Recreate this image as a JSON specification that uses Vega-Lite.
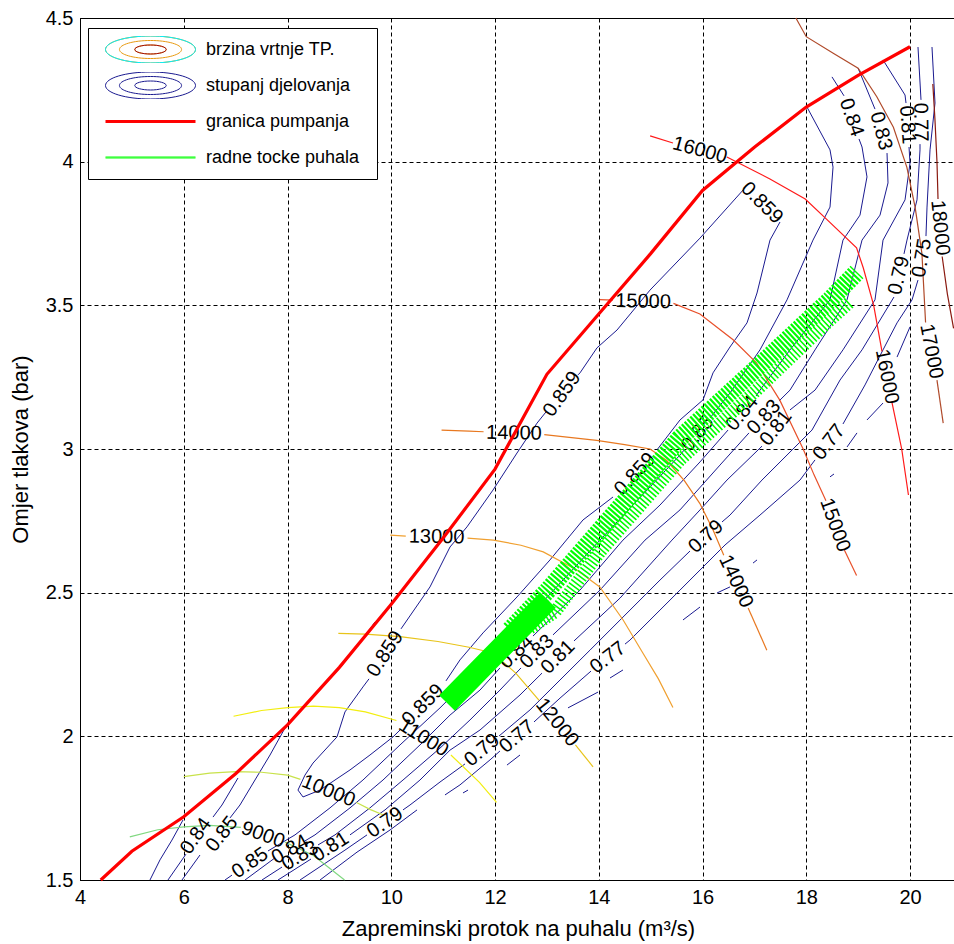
{
"$schema": "https://vega.github.io/schema/vega-lite/v6.json",
"width": 876, "height": 862,
"autosize": {"type": "none"},
"padding": {"left": 80, "top": 18, "right": 0, "bottom": 64},
"background": "white",
"config": {
  "view": {"stroke": "black", "strokeWidth": 1},
  "font": "Liberation Sans",
  "axis": {"domainColor": "black", "domainWidth": 1, "gridColor": "black", "gridDash": [4, 3], "gridOpacity": 1, "gridWidth": 1, "ticks": false, "labelFont": "Liberation Sans", "labelFontSize": 20, "labelColor": "black", "labelPadding": 7, "labelFlush": false, "labelOverlap": false, "titleFont": "Liberation Sans", "titleFontSize": 22, "titleFontWeight": "normal", "titleColor": "black"}
},
"datasets": {
"eff": [
{"s":"E1a","o":0,"x":10.169,"y":2.022},{"s":"E1a","o":1,"x":10.034,"y":1.998},{"s":"E1a","o":2,"x":9.59,"y":1.935},{"s":"E1a","o":3,"x":9.205,"y":1.883},{"s":"E1a","o":4,"x":8.627,"y":1.813},{"s":"E1a","o":5,"x":8.299,"y":1.789},{"s":"E1a","o":6,"x":8.202,"y":1.813},{"s":"E1a","o":7,"x":8.337,"y":1.865},{"s":"E1a","o":8,"x":8.492,"y":1.907},{"s":"E1a","o":9,"x":8.954,"y":1.998},{"s":"E1a","o":10,"x":9.108,"y":2.085},{"s":"E1a","o":11,"x":9.455,"y":2.172},{"s":"E1a","o":12,"x":9.571,"y":2.2},
{"s":"E1b","o":0,"x":10.188,"y":2.374},{"s":"E1b","o":1,"x":10.747,"y":2.52},{"s":"E1b","o":2,"x":11.133,"y":2.659},{"s":"E1b","o":3,"x":11.46,"y":2.729},{"s":"E1b","o":4,"x":11.961,"y":2.857},{"s":"E1b","o":5,"x":12.424,"y":2.986},{"s":"E1b","o":6,"x":12.81,"y":3.09},{"s":"E1b","o":7,"x":12.983,"y":3.129},
{"s":"E1c","o":0,"x":13.6,"y":3.258},{"s":"E1c","o":1,"x":13.639,"y":3.265},{"s":"E1c","o":2,"x":13.966,"y":3.352},{"s":"E1c","o":3,"x":14.352,"y":3.414},{"s":"E1c","o":4,"x":14.988,"y":3.553},{"s":"E1c","o":5,"x":15.952,"y":3.734},{"s":"E1c","o":6,"x":16.781,"y":3.901},
{"s":"E1d","o":0,"x":17.494,"y":3.79},{"s":"E1d","o":1,"x":17.301,"y":3.727},{"s":"E1d","o":2,"x":17.051,"y":3.543},{"s":"E1d","o":3,"x":16.858,"y":3.439},{"s":"E1d","o":4,"x":16.53,"y":3.355},{"s":"E1d","o":5,"x":16.203,"y":3.265},{"s":"E1d","o":6,"x":16.01,"y":3.171},{"s":"E1d","o":7,"x":15.566,"y":3.101},{"s":"E1d","o":8,"x":15.123,"y":2.997},
{"s":"E1e","o":0,"x":14.275,"y":2.833},{"s":"E1e","o":1,"x":13.696,"y":2.753},{"s":"E1e","o":2,"x":13.06,"y":2.614},{"s":"E1e","o":3,"x":12.424,"y":2.485},{"s":"E1e","o":4,"x":11.769,"y":2.36},{"s":"E1e","o":5,"x":11.325,"y":2.266},{"s":"E1e","o":6,"x":11.055,"y":2.193},
{"s":"E2a","o":0,"x":18.014,"y":4.19},{"s":"E2a","o":1,"x":18.458,"y":4.041},{"s":"E2a","o":2,"x":18.516,"y":3.981},{"s":"E2a","o":3,"x":18.458,"y":3.842},{"s":"E2a","o":4,"x":18.13,"y":3.727},{"s":"E2a","o":5,"x":17.629,"y":3.519},{"s":"E2a","o":6,"x":17.108,"y":3.345},{"s":"E2a","o":7,"x":16.53,"y":3.195},{"s":"E2a","o":8,"x":16.145,"y":3.108},
{"s":"E2b","o":0,"x":15.663,"y":3.0},{"s":"E2b","o":1,"x":15.566,"y":2.979},{"s":"E2b","o":2,"x":14.988,"y":2.868},{"s":"E2b","o":3,"x":14.024,"y":2.683},{"s":"E2b","o":4,"x":13.06,"y":2.495},{"s":"E2b","o":5,"x":12.096,"y":2.307},{"s":"E2b","o":6,"x":11.518,"y":2.203},{"s":"E2b","o":7,"x":10.94,"y":2.099},{"s":"E2b","o":8,"x":10.169,"y":1.97},{"s":"E2b","o":9,"x":9.455,"y":1.848},{"s":"E2b","o":10,"x":8.819,"y":1.751},{"s":"E2b","o":11,"x":8.145,"y":1.657},{"s":"E2b","o":12,"x":7.624,"y":1.601},
{"s":"E2c","o":0,"x":6.93,"y":1.517},{"s":"E2c","o":1,"x":6.795,"y":1.5},
{"s":"E3a","o":0,"x":18.496,"y":4.295},{"s":"E3a","o":1,"x":18.728,"y":4.229},
{"s":"E3b","o":0,"x":19.017,"y":4.079},{"s":"E3b","o":1,"x":19.075,"y":4.051},{"s":"E3b","o":2,"x":19.171,"y":3.947},{"s":"E3b","o":3,"x":19.036,"y":3.814},{"s":"E3b","o":4,"x":18.708,"y":3.727},{"s":"E3b","o":5,"x":18.458,"y":3.519},{"s":"E3b","o":6,"x":17.687,"y":3.345},{"s":"E3b","o":7,"x":17.108,"y":3.205},{"s":"E3b","o":8,"x":17.032,"y":3.184},
{"s":"E3c","o":0,"x":16.492,"y":3.066},{"s":"E3c","o":1,"x":15.952,"y":2.955},{"s":"E3c","o":2,"x":15.181,"y":2.805},{"s":"E3c","o":3,"x":14.467,"y":2.683},{"s":"E3c","o":4,"x":13.639,"y":2.509},{"s":"E3c","o":5,"x":12.732,"y":2.349},
{"s":"E3d","o":0,"x":12.096,"y":2.238},{"s":"E3d","o":1,"x":11.711,"y":2.161},{"s":"E3d","o":2,"x":11.133,"y":2.074},{"s":"E3d","o":3,"x":10.554,"y":1.97},{"s":"E3d","o":4,"x":9.841,"y":1.848},{"s":"E3d","o":5,"x":9.205,"y":1.751},{"s":"E3d","o":6,"x":8.53,"y":1.657},{"s":"E3d","o":7,"x":8.337,"y":1.636},
{"s":"E3e","o":0,"x":7.759,"y":1.577},{"s":"E3e","o":1,"x":7.181,"y":1.5},
{"s":"E4a","o":0,"x":18.998,"y":4.326},{"s":"E4a","o":1,"x":19.325,"y":4.183},
{"s":"E4b","o":0,"x":19.557,"y":4.03},{"s":"E4b","o":1,"x":19.576,"y":3.926},{"s":"E4b","o":2,"x":19.422,"y":3.814},{"s":"E4b","o":3,"x":19.075,"y":3.727},{"s":"E4b","o":4,"x":18.786,"y":3.519},{"s":"E4b","o":5,"x":18.169,"y":3.345},{"s":"E4b","o":6,"x":17.687,"y":3.205},{"s":"E4b","o":7,"x":17.475,"y":3.167},
{"s":"E4c","o":0,"x":16.896,"y":3.056},{"s":"E4c","o":1,"x":16.337,"y":2.944},{"s":"E4c","o":2,"x":15.566,"y":2.788},{"s":"E4c","o":3,"x":14.892,"y":2.683},{"s":"E4c","o":4,"x":14.024,"y":2.509},{"s":"E4c","o":5,"x":13.118,"y":2.353},
{"s":"E4d","o":0,"x":12.501,"y":2.238},{"s":"E4d","o":1,"x":12.096,"y":2.161},{"s":"E4d","o":2,"x":11.518,"y":2.057},{"s":"E4d","o":3,"x":10.94,"y":1.959},{"s":"E4d","o":4,"x":10.227,"y":1.848},{"s":"E4d","o":5,"x":9.59,"y":1.751},{"s":"E4d","o":6,"x":8.916,"y":1.657},{"s":"E4d","o":7,"x":8.588,"y":1.622},
{"s":"E4e","o":0,"x":7.894,"y":1.545},{"s":"E4e","o":1,"x":7.508,"y":1.5},
{"s":"E5a","o":0,"x":19.48,"y":4.354},{"s":"E5a","o":1,"x":19.904,"y":4.232},{"s":"E5a","o":2,"x":19.923,"y":4.204},
{"s":"E5b","o":0,"x":19.981,"y":4.051},{"s":"E5b","o":1,"x":20.0,"y":3.995},{"s":"E5b","o":2,"x":19.904,"y":3.867},{"s":"E5b","o":3,"x":19.48,"y":3.727},{"s":"E5b","o":4,"x":19.325,"y":3.519},{"s":"E5b","o":5,"x":18.708,"y":3.345},{"s":"E5b","o":6,"x":18.169,"y":3.205},{"s":"E5b","o":7,"x":17.687,"y":3.136},
{"s":"E5c","o":0,"x":17.147,"y":3.01},{"s":"E5c","o":1,"x":16.472,"y":2.892},{"s":"E5c","o":2,"x":15.952,"y":2.788},{"s":"E5c","o":3,"x":15.412,"y":2.683},{"s":"E5c","o":4,"x":14.41,"y":2.481},{"s":"E5c","o":5,"x":13.523,"y":2.332},
{"s":"E5d","o":0,"x":12.906,"y":2.22},{"s":"E5d","o":1,"x":12.482,"y":2.144},{"s":"E5d","o":2,"x":11.711,"y":2.022},{"s":"E5d","o":3,"x":11.133,"y":1.952},{"s":"E5d","o":4,"x":10.554,"y":1.848},{"s":"E5d","o":5,"x":9.88,"y":1.744},{"s":"E5d","o":6,"x":9.205,"y":1.657},
{"s":"E5e","o":0,"x":8.453,"y":1.573},{"s":"E5e","o":1,"x":7.817,"y":1.5},
{"s":"E6a","o":0,"x":20.154,"y":4.399},{"s":"E6a","o":1,"x":20.212,"y":4.215},
{"s":"E6b","o":0,"x":20.193,"y":4.061},{"s":"E6b","o":1,"x":20.193,"y":4.041},{"s":"E6b","o":2,"x":20.135,"y":3.867},{"s":"E6b","o":3,"x":19.942,"y":3.727},{"s":"E6b","o":4,"x":19.884,"y":3.679},
{"s":"E6c","o":0,"x":19.691,"y":3.529},{"s":"E6c","o":1,"x":19.075,"y":3.345},{"s":"E6c","o":2,"x":18.651,"y":3.24},{"s":"E6c","o":3,"x":18.111,"y":3.066},{"s":"E6c","o":4,"x":17.147,"y":2.892},{"s":"E6c","o":5,"x":16.53,"y":2.77},{"s":"E6c","o":6,"x":16.376,"y":2.746},
{"s":"E6d","o":0,"x":15.759,"y":2.645},{"s":"E6d","o":1,"x":15.181,"y":2.544},{"s":"E6d","o":2,"x":13.831,"y":2.3},{"s":"E6d","o":3,"x":12.675,"y":2.092},{"s":"E6d","o":4,"x":12.077,"y":2.001},
{"s":"E6e","o":0,"x":11.422,"y":1.904},{"s":"E6e","o":1,"x":10.94,"y":1.841},{"s":"E6e","o":2,"x":10.361,"y":1.761},{"s":"E6e","o":3,"x":10.227,"y":1.744},
{"s":"E6f","o":0,"x":9.533,"y":1.657},{"s":"E6f","o":1,"x":9.108,"y":1.604},{"s":"E6f","o":2,"x":8.241,"y":1.5},
{"s":"E7a","o":0,"x":20.424,"y":4.399},{"s":"E7a","o":1,"x":20.482,"y":4.204},{"s":"E7a","o":2,"x":20.386,"y":4.041},{"s":"E7a","o":3,"x":20.328,"y":3.842},{"s":"E7a","o":4,"x":20.308,"y":3.741},
{"s":"E7b","o":0,"x":20.154,"y":3.588},{"s":"E7b","o":1,"x":20.039,"y":3.519},{"s":"E7b","o":2,"x":19.75,"y":3.439},{"s":"E7b","o":3,"x":19.48,"y":3.345},{"s":"E7b","o":4,"x":19.133,"y":3.223},{"s":"E7b","o":5,"x":18.708,"y":3.087},
{"s":"E7c","o":0,"x":18.169,"y":2.962},{"s":"E7c","o":1,"x":17.88,"y":2.892},{"s":"E7c","o":2,"x":17.108,"y":2.77},{"s":"E7c","o":3,"x":16.434,"y":2.666},{"s":"E7c","o":4,"x":15.566,"y":2.509},{"s":"E7c","o":5,"x":14.602,"y":2.335},{"s":"E7c","o":6,"x":14.506,"y":2.321},
{"s":"E7d","o":0,"x":13.851,"y":2.227},{"s":"E7d","o":1,"x":13.253,"y":2.133},{"s":"E7d","o":2,"x":12.752,"y":2.05},
{"s":"E7e","o":0,"x":12.096,"y":1.949},{"s":"E7e","o":1,"x":11.904,"y":1.918},{"s":"E7e","o":2,"x":11.325,"y":1.831},{"s":"E7e","o":3,"x":11.036,"y":1.796},
{"s":"E9","o":0,"x":8.627,"y":1.5},{"s":"E9","o":1,"x":9.34,"y":1.597},{"s":"E9","o":2,"x":9.976,"y":1.674},{"s":"E9","o":3,"x":10.497,"y":1.744},
{"s":"F1","o":0,"x":19.75,"y":3.32},{"s":"F1","o":1,"x":20.0,"y":3.425},
{"s":"F2","o":0,"x":19.171,"y":3.101},{"s":"F2","o":1,"x":19.48,"y":3.16},
{"s":"F3","o":0,"x":18.786,"y":3.007},{"s":"F3","o":1,"x":18.978,"y":3.056},
{"s":"F4","o":0,"x":18.458,"y":2.903},{"s":"F4","o":1,"x":18.535,"y":2.913},
{"s":"F6","o":0,"x":16.974,"y":2.603},{"s":"F6","o":1,"x":17.051,"y":2.614},
{"s":"F7","o":0,"x":16.28,"y":2.499},{"s":"F7","o":1,"x":16.53,"y":2.52},
{"s":"F8","o":0,"x":15.624,"y":2.405},{"s":"F8","o":1,"x":15.952,"y":2.45},
{"s":"F9","o":0,"x":14.217,"y":2.203},{"s":"F9","o":1,"x":14.467,"y":2.231},
{"s":"F10","o":0,"x":13.407,"y":2.099},{"s":"F10","o":1,"x":13.986,"y":2.154},
{"s":"F11","o":0,"x":12.231,"y":1.9},{"s":"F11","o":1,"x":12.482,"y":1.935},
{"s":"F13","o":0,"x":11.383,"y":1.803},{"s":"F13","o":1,"x":11.48,"y":1.813},
{"s":"Ba","o":0,"x":5.349,"y":1.5},{"s":"Ba","o":1,"x":5.542,"y":1.57},{"s":"Ba","o":2,"x":5.773,"y":1.639},{"s":"Ba","o":3,"x":5.986,"y":1.709},
{"s":"Bb1","o":0,"x":5.696,"y":1.5},{"s":"Bb1","o":1,"x":6.043,"y":1.59},
{"s":"Bb2","o":0,"x":6.564,"y":1.719},{"s":"Bb2","o":1,"x":6.737,"y":1.761},{"s":"Bb2","o":2,"x":7.046,"y":1.855},
{"s":"Bc1","o":0,"x":5.966,"y":1.5},{"s":"Bc1","o":1,"x":6.313,"y":1.587},
{"s":"Bc2","o":0,"x":6.892,"y":1.716},{"s":"Bc2","o":1,"x":7.084,"y":1.761},{"s":"Bc2","o":2,"x":7.373,"y":1.848},{"s":"Bc2","o":3,"x":7.663,"y":1.935},{"s":"Bc2","o":4,"x":7.952,"y":2.029},{"s":"Bc2","o":5,"x":8.434,"y":2.126},{"s":"Bc2","o":6,"x":9.012,"y":2.238},{"s":"Bc2","o":7,"x":9.436,"y":2.335},{"s":"Bc2","o":8,"x":9.687,"y":2.398}
],
"spd": [
{"n":9000,"s":"9a","o":0,"x":4.96,"y":1.65},{"n":9000,"s":"9a","o":1,"x":5.5,"y":1.675},{"n":9000,"s":"9a","o":2,"x":6.0,"y":1.685},{"n":9000,"s":"9a","o":3,"x":6.5,"y":1.69},{"n":9000,"s":"9a","o":4,"x":7.1,"y":1.683},
{"n":9000,"s":"9b","o":0,"x":7.95,"y":1.632},{"n":9000,"s":"9b","o":1,"x":8.5,"y":1.585},{"n":9000,"s":"9b","o":2,"x":9.1,"y":1.5},
{"n":10000,"s":"10a","o":0,"x":6.0,"y":1.86},{"n":10000,"s":"10a","o":1,"x":6.5,"y":1.872},{"n":10000,"s":"10a","o":2,"x":7.0,"y":1.877},{"n":10000,"s":"10a","o":3,"x":7.5,"y":1.875},{"n":10000,"s":"10a","o":4,"x":8.0,"y":1.865},{"n":10000,"s":"10a","o":5,"x":8.25,"y":1.85},
{"n":10000,"s":"10b","o":0,"x":9.33,"y":1.77},{"n":10000,"s":"10b","o":1,"x":9.6,"y":1.745},{"n":10000,"s":"10b","o":2,"x":9.85,"y":1.726},
{"n":11000,"s":"11a","o":0,"x":6.96,"y":2.07},{"n":11000,"s":"11a","o":1,"x":7.5,"y":2.09},{"n":11000,"s":"11a","o":2,"x":8.0,"y":2.1},{"n":11000,"s":"11a","o":3,"x":8.5,"y":2.105},{"n":11000,"s":"11a","o":4,"x":9.0,"y":2.1},{"n":11000,"s":"11a","o":5,"x":9.5,"y":2.085},{"n":11000,"s":"11a","o":6,"x":10.1,"y":2.055},
{"n":11000,"s":"11b","o":0,"x":11.15,"y":1.935},{"n":11000,"s":"11b","o":1,"x":11.7,"y":1.84},{"n":11000,"s":"11b","o":2,"x":12.03,"y":1.77},
{"n":12000,"s":"12a","o":0,"x":8.98,"y":2.358},{"n":12000,"s":"12a","o":1,"x":9.5,"y":2.356},{"n":12000,"s":"12a","o":2,"x":10.17,"y":2.347},{"n":12000,"s":"12a","o":3,"x":10.9,"y":2.33},{"n":12000,"s":"12a","o":4,"x":11.5,"y":2.31},{"n":12000,"s":"12a","o":5,"x":11.96,"y":2.29},{"n":12000,"s":"12a","o":6,"x":12.4,"y":2.22},{"n":12000,"s":"12a","o":7,"x":12.85,"y":2.125},
{"n":12000,"s":"12b","o":0,"x":13.55,"y":1.97},{"n":12000,"s":"12b","o":1,"x":13.89,"y":1.894},
{"n":13000,"s":"13a","o":0,"x":9.98,"y":2.7},{"n":13000,"s":"13a","o":1,"x":10.28,"y":2.697},
{"n":13000,"s":"13b","o":0,"x":11.47,"y":2.69},{"n":13000,"s":"13b","o":1,"x":11.97,"y":2.683},{"n":13000,"s":"13b","o":2,"x":12.5,"y":2.665},{"n":13000,"s":"13b","o":3,"x":12.93,"y":2.642},{"n":13000,"s":"13b","o":4,"x":13.57,"y":2.58},{"n":13000,"s":"13b","o":5,"x":14.02,"y":2.52},{"n":13000,"s":"13b","o":6,"x":14.47,"y":2.405},{"n":13000,"s":"13b","o":7,"x":14.85,"y":2.29},{"n":13000,"s":"13b","o":8,"x":15.15,"y":2.2},{"n":13000,"s":"13b","o":9,"x":15.43,"y":2.1},
{"n":14000,"s":"14a","o":0,"x":10.97,"y":3.066},{"n":14000,"s":"14a","o":1,"x":11.5,"y":3.062},{"n":14000,"s":"14a","o":2,"x":11.78,"y":3.06},
{"n":14000,"s":"14b","o":0,"x":12.95,"y":3.05},{"n":14000,"s":"14b","o":1,"x":13.96,"y":3.03},{"n":14000,"s":"14b","o":2,"x":14.5,"y":3.015},{"n":14000,"s":"14b","o":3,"x":14.99,"y":3.0},{"n":14000,"s":"14b","o":4,"x":15.31,"y":2.96},{"n":14000,"s":"14b","o":5,"x":15.65,"y":2.89},{"n":14000,"s":"14b","o":6,"x":15.95,"y":2.81},{"n":14000,"s":"14b","o":7,"x":16.2,"y":2.72},{"n":14000,"s":"14b","o":8,"x":16.41,"y":2.63},
{"n":14000,"s":"14c","o":0,"x":16.88,"y":2.447},{"n":14000,"s":"14c","o":1,"x":17.24,"y":2.3},
{"n":15000,"s":"15a","o":0,"x":14.02,"y":3.52},{"n":15000,"s":"15a","o":1,"x":14.27,"y":3.518},
{"n":15000,"s":"15b","o":0,"x":15.44,"y":3.507},{"n":15000,"s":"15b","o":1,"x":15.95,"y":3.47},{"n":15000,"s":"15b","o":2,"x":16.59,"y":3.38},{"n":15000,"s":"15b","o":3,"x":17.04,"y":3.3},{"n":15000,"s":"15b","o":4,"x":17.49,"y":3.17},{"n":15000,"s":"15b","o":5,"x":17.94,"y":3.0},{"n":15000,"s":"15b","o":6,"x":18.15,"y":2.91},{"n":15000,"s":"15b","o":7,"x":18.38,"y":2.82},
{"n":15000,"s":"15c","o":0,"x":18.73,"y":2.65},{"n":15000,"s":"15c","o":1,"x":18.97,"y":2.56},
{"n":16000,"s":"16a","o":0,"x":14.99,"y":4.09},{"n":16000,"s":"16a","o":1,"x":15.43,"y":4.065},
{"n":16000,"s":"16b","o":0,"x":16.47,"y":4.016},{"n":16000,"s":"16b","o":1,"x":17.3,"y":3.94},{"n":16000,"s":"16b","o":2,"x":17.98,"y":3.87},{"n":16000,"s":"16b","o":3,"x":18.39,"y":3.8},{"n":16000,"s":"16b","o":4,"x":18.97,"y":3.7},{"n":16000,"s":"16b","o":5,"x":19.1,"y":3.63},{"n":16000,"s":"16b","o":6,"x":19.3,"y":3.5},{"n":16000,"s":"16b","o":7,"x":19.46,"y":3.34},
{"n":16000,"s":"16c","o":0,"x":19.65,"y":3.164},{"n":16000,"s":"16c","o":1,"x":19.84,"y":3.0},{"n":16000,"s":"16c","o":2,"x":19.97,"y":2.84},
{"n":17000,"s":"17a","o":0,"x":17.8,"y":4.5},{"n":17000,"s":"17a","o":1,"x":18.0,"y":4.435},{"n":17000,"s":"17a","o":2,"x":18.52,"y":4.377},{"n":17000,"s":"17a","o":3,"x":19.0,"y":4.325},{"n":17000,"s":"17a","o":4,"x":19.36,"y":4.226},{"n":17000,"s":"17a","o":5,"x":19.68,"y":4.12},{"n":17000,"s":"17a","o":6,"x":19.94,"y":3.98},{"n":17000,"s":"17a","o":7,"x":20.1,"y":3.84},{"n":17000,"s":"17a","o":8,"x":20.23,"y":3.68},{"n":17000,"s":"17a","o":9,"x":20.3,"y":3.44},
{"n":17000,"s":"17b","o":0,"x":20.52,"y":3.24},{"n":17000,"s":"17b","o":1,"x":20.64,"y":3.09},
{"n":18000,"s":"18a","o":0,"x":20.44,"y":4.27},{"n":18000,"s":"18a","o":1,"x":20.48,"y":4.15},{"n":18000,"s":"18a","o":2,"x":20.52,"y":4.0},{"n":18000,"s":"18a","o":3,"x":20.54,"y":3.87},
{"n":18000,"s":"18b","o":0,"x":20.62,"y":3.67},{"n":18000,"s":"18b","o":1,"x":20.72,"y":3.54},{"n":18000,"s":"18b","o":2,"x":20.84,"y":3.42}
],
"surge": [
{"o":0,"x":4.4,"y":1.5},{"o":1,"x":5,"y":1.6},{"o":2,"x":6,"y":1.72},{"o":3,"x":7,"y":1.87},{"o":4,"x":8,"y":2.04},{"o":5,"x":9,"y":2.24},{"o":6,"x":10,"y":2.46},{"o":7,"x":11,"y":2.69},{"o":8,"x":12,"y":2.93},{"o":9,"x":13,"y":3.26},{"o":10,"x":14,"y":3.47},{"o":11,"x":15,"y":3.68},{"o":12,"x":16,"y":3.9},{"o":13,"x":17,"y":4.05},{"o":14,"x":18,"y":4.19},{"o":15,"x":19,"y":4.3},{"o":16,"x":20,"y":4.4}
],
"ops": [
{"s":"solid","o":0,"x":11.075,"y":2.116},{"s":"solid","o":1,"x":12.039,"y":2.294},{"s":"solid","o":2,"x":13.022,"y":2.474},
{"s":"upper","o":0,"x":12.289,"y":2.37},{"s":"upper","o":1,"x":13.022,"y":2.509},{"s":"upper","o":2,"x":14.024,"y":2.718},{"s":"upper","o":3,"x":15.566,"y":3.038},{"s":"upper","o":4,"x":17.108,"y":3.292},{"s":"upper","o":5,"x":18.458,"y":3.519},{"s":"upper","o":6,"x":18.978,"y":3.616},
{"s":"lower","o":0,"x":12.675,"y":2.377},{"s":"lower","o":1,"x":13.157,"y":2.433},{"s":"lower","o":2,"x":14.024,"y":2.642},{"s":"lower","o":3,"x":15.566,"y":2.962},{"s":"lower","o":4,"x":17.108,"y":3.216},{"s":"lower","o":5,"x":18.458,"y":3.449},{"s":"lower","o":6,"x":18.843,"y":3.512}
],
"lab": [
{"t":"0.859","x":17.147,"y":3.856,"a":45},{"t":"0.859","x":13.292,"y":3.191,"a":-55},{"t":"0.859","x":14.699,"y":2.913,"a":-47},{"t":"0.859","x":9.88,"y":2.287,"a":-57},{"t":"0.859","x":10.612,"y":2.109,"a":-45},
{"t":"0.84","x":18.872,"y":4.154,"a":71},{"t":"0.83","x":19.441,"y":4.107,"a":75},{"t":"0.81","x":19.951,"y":4.128,"a":86},{"t":"0.77","x":20.202,"y":4.138,"a":89},{"t":"0.79","x":19.788,"y":3.604,"a":-77},{"t":"0.75","x":20.231,"y":3.665,"a":-80},
{"t":"0.85","x":15.903,"y":3.054,"a":-51},{"t":"0.84","x":16.761,"y":3.125,"a":-51},{"t":"0.83","x":17.185,"y":3.111,"a":-47},{"t":"0.81","x":17.417,"y":3.073,"a":-52},{"t":"0.77","x":18.439,"y":3.024,"a":-52},{"t":"0.79","x":16.067,"y":2.695,"a":-42},
{"t":"0.84","x":12.414,"y":2.294,"a":-44},{"t":"0.83","x":12.81,"y":2.295,"a":-45},{"t":"0.81","x":13.214,"y":2.276,"a":-45},{"t":"0.77","x":14.178,"y":2.274,"a":-38},{"t":"0.79","x":11.749,"y":1.952,"a":-40},{"t":"0.77","x":12.424,"y":1.999,"a":-40},{"t":"0.79","x":9.88,"y":1.7,"a":-35},
{"t":"0.84","x":6.236,"y":1.653,"a":-55},{"t":"0.85","x":6.737,"y":1.66,"a":-52},{"t":"0.85","x":7.277,"y":1.559,"a":-34},{"t":"0.84","x":8.048,"y":1.606,"a":-30},{"t":"0.83","x":8.241,"y":1.584,"a":-31},{"t":"0.81","x":8.829,"y":1.615,"a":-32},
{"t":"9000","x":7.528,"y":1.657,"a":20},{"t":"10000","x":8.79,"y":1.81,"a":22},{"t":"11000","x":10.625,"y":1.995,"a":32},{"t":"12000","x":13.2,"y":2.048,"a":51},{"t":"13000","x":10.875,"y":2.694,"a":1},{"t":"14000","x":12.365,"y":3.055,"a":1},{"t":"14000","x":16.645,"y":2.539,"a":65},{"t":"15000","x":14.855,"y":3.513,"a":1},{"t":"15000","x":18.555,"y":2.735,"a":70},{"t":"16000","x":15.95,"y":4.04,"a":15},{"t":"16000","x":19.555,"y":3.252,"a":79},{"t":"17000","x":20.411,"y":3.34,"a":79},{"t":"18000","x":20.58,"y":3.77,"a":84}
]
},
"encoding": {
  "x": {"field": "x", "type": "quantitative", "scale": {"domain": [4, 20.8867], "nice": false, "zero": false},
        "axis": {"values": [4, 6, 8, 10, 12, 14, 16, 18, 20], "grid": true, "title": "Zapreminski protok na puhalu (m³/s)", "titleX": 438, "titleY": 48, "titleAlign": "center", "titleBaseline": "middle"}},
  "y": {"field": "y", "type": "quantitative", "scale": {"domain": [1.5, 4.5], "nice": false, "zero": false},
        "axis": {"values": [1.5, 2, 2.5, 3, 3.5, 4, 4.5], "format": "~g", "grid": true, "title": "Omjer tlakova (bar)", "titleX": -60, "titleY": 431, "titleAngle": -90, "titleAlign": "center", "titleBaseline": "middle"}}
},
"resolve": {"scale": {"color": "independent", "shape": "independent"}},
"layer": [
  {"data": {"name": "eff"}, "mark": {"type": "line", "color": "#1a1a90", "strokeWidth": 1},
   "encoding": {"detail": {"field": "s", "type": "nominal"}, "order": {"field": "o", "type": "quantitative"}}},
  {"data": {"name": "spd"}, "mark": {"type": "line", "strokeWidth": 1.2},
   "encoding": {"detail": {"field": "s", "type": "nominal"}, "order": {"field": "o", "type": "quantitative"},
     "color": {"field": "n", "type": "ordinal", "legend": null,
       "scale": {"domain": [9000, 10000, 11000, 12000, 13000, 14000, 15000, 16000, 17000, 18000],
                 "range": ["#80d880", "#c8e24a", "#f2ee10", "#e8c41a", "#f0a030", "#e87820", "#e8502a", "#ff1a1a", "#b04a2a", "#8a1a10"]}}}},
  {"data": {"name": "lab"}, "mark": {"type": "text", "font": "Liberation Sans", "fontSize": 20, "color": "black", "align": "center", "baseline": "middle"},
   "encoding": {"text": {"field": "t", "type": "nominal"}, "angle": {"field": "a", "type": "quantitative", "scale": null}}},
  {"data": {"name": "surge"}, "mark": {"type": "line", "color": "#ff0000", "strokeWidth": 3.2},
   "encoding": {"order": {"field": "o", "type": "quantitative"}}},
  {"data": {"name": "ops"}, "transform": [{"filter": "datum.s == 'solid'"}], "mark": {"type": "line", "color": "#00ff00", "strokeWidth": 22, "strokeCap": "butt"},
   "encoding": {"order": {"field": "o", "type": "quantitative"}}},
  {"data": {"name": "ops"}, "transform": [{"filter": "datum.s == 'upper'"}], "mark": {"type": "line", "color": "#00ff00", "strokeWidth": 18, "strokeDash": [2.2, 1.6]},
   "encoding": {"order": {"field": "o", "type": "quantitative"}}},
  {"data": {"name": "ops"}, "transform": [{"filter": "datum.s == 'lower'"}], "mark": {"type": "line", "color": "#00ff00", "strokeWidth": 13, "strokeDash": [1.6, 2.2]},
   "encoding": {"order": {"field": "o", "type": "quantitative"}}},
  {"data": {"values": []}, "mark": {"type": "point", "filled": false, "opacity": 1},
   "encoding": {
     "shape": {"field": "k", "type": "nominal",
       "scale": {"domain": ["brzina vrtnje TP.", "stupanj djelovanja", "granica pumpanja", "radne tocke puhala"],
                 "range": ["M-1,0A1,0.3,0,1,0,1,0A1,0.3,0,1,0,-1,0M-0.69,0A0.69,0.2,0,1,0,0.69,0A0.69,0.2,0,1,0,-0.69,0M-0.35,0A0.35,0.1,0,1,0,0.35,0A0.35,0.1,0,1,0,-0.35,0",
                           "M-1,0A1,0.3,0,1,0,1,0A1,0.3,0,1,0,-1,0M-0.69,0A0.69,0.2,0,1,0,0.69,0A0.69,0.2,0,1,0,-0.69,0M-0.35,0A0.35,0.1,0,1,0,0.35,0A0.35,0.1,0,1,0,-0.35,0",
                           "M-1,-0.022H1M-1,0H1M-1,0.022H1",
                           "M-1,-0.011H1M-1,0.011H1"]},
       "legend": {"title": "nn", "titleOrient": "right", "titleColor": "transparent", "titleFontSize": 8, "titlePadding": 0, "orient": "none", "legendX": 8, "legendY": 10, "padding": 8, "strokeColor": "black", "fillColor": "white", "symbolSize": 8100, "symbolStrokeWidth": 1, "symbolFillColor": "transparent", "clipHeight": 27, "symbolOffset": 9, "labelOffset": 10, "rowPadding": 9, "labelFont": "Liberation Sans", "labelFontSize": 18, "labelColor": "black", "labelLimit": 500}},
     "color": {"field": "k", "type": "nominal",
       "scale": {"domain": ["brzina vrtnje TP.", "stupanj djelovanja", "granica pumpanja", "radne tocke puhala"],
                 "range": ["#e89a10", "#1a1a90", "#ff0000", "#00ff00"]},
       "legend": {"title": "nn", "titleOrient": "right", "titleColor": "transparent", "titleFontSize": 8, "titlePadding": 0, "orient": "none", "legendX": 8, "legendY": 10, "padding": 8, "strokeColor": "black", "fillColor": "white", "symbolSize": 8100, "symbolStrokeWidth": 1, "symbolFillColor": "transparent", "clipHeight": 27, "symbolOffset": 9, "labelOffset": 10, "rowPadding": 9, "labelFont": "Liberation Sans", "labelFontSize": 18, "labelColor": "black", "labelLimit": 500}}
   }},
  {"data": {"values": []}, "mark": {"type": "point", "filled": false, "opacity": 1},
   "encoding": {
     "shape": {"field": "k2", "type": "nominal",
       "scale": {"domain": ["brzina vrtnje TP."], "range": ["M-1,0A1,0.3,0,1,0,1,0A1,0.3,0,1,0,-1,0"]},
       "legend": {"title": null, "orient": "none", "legendX": 8, "legendY": 10, "padding": 8, "symbolSize": 8100, "symbolStrokeWidth": 1, "symbolFillColor": "transparent", "clipHeight": 27, "symbolOffset": 9, "labelOffset": 10, "rowPadding": 9, "labelFontSize": 18, "labelOpacity": 0}},
     "color": {"field": "k2", "type": "nominal",
       "scale": {"domain": ["brzina vrtnje TP."], "range": ["#00f0ff"]},
       "legend": {"title": null, "orient": "none", "legendX": 8, "legendY": 10, "padding": 8, "symbolSize": 8100, "symbolStrokeWidth": 1, "symbolFillColor": "transparent", "clipHeight": 27, "symbolOffset": 9, "labelOffset": 10, "rowPadding": 9, "labelFontSize": 18, "labelOpacity": 0}}
   }},
  {"data": {"values": []}, "mark": {"type": "point", "filled": false, "opacity": 1},
   "encoding": {
     "shape": {"field": "k3", "type": "nominal",
       "scale": {"domain": ["brzina vrtnje TP."], "range": ["M-0.35,0A0.35,0.1,0,1,0,0.35,0A0.35,0.1,0,1,0,-0.35,0"]},
       "legend": {"title": null, "orient": "none", "legendX": 8, "legendY": 10, "padding": 8, "symbolSize": 8100, "symbolStrokeWidth": 1, "symbolFillColor": "transparent", "clipHeight": 27, "symbolOffset": 9, "labelOffset": 10, "rowPadding": 9, "labelFontSize": 18, "labelOpacity": 0}},
     "color": {"field": "k3", "type": "nominal",
       "scale": {"domain": ["brzina vrtnje TP."], "range": ["#a01010"]},
       "legend": {"title": null, "orient": "none", "legendX": 8, "legendY": 10, "padding": 8, "symbolSize": 8100, "symbolStrokeWidth": 1, "symbolFillColor": "transparent", "clipHeight": 27, "symbolOffset": 9, "labelOffset": 10, "rowPadding": 9, "labelFontSize": 18, "labelOpacity": 0}}
   }}
]
}
